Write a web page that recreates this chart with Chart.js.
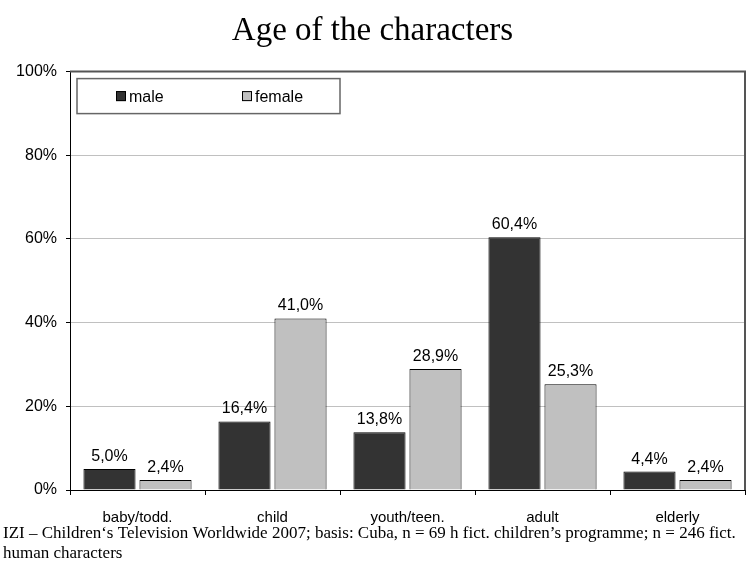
<!DOCTYPE html>
<html>
<head>
<meta charset="utf-8">
<title>Age of the characters</title>
<script src="https://cdn.jsdelivr.net/npm/chart.js@4.4.1/dist/chart.umd.min.js"></script>
<style>
  html, body { margin: 0; padding: 0; background: #fff; }
  #wrap { width: 752px; height: 563px; }
</style>
</head>
<body>
<div id="wrap"><canvas id="ageChart" width="752" height="563"></canvas></div>
<script>
// ================================
//            DATA
// ================================
const categories = ["baby/todd.", "child", "youth/teen.", "adult", "elderly"];
const maleValues = [5.0, 16.4, 13.8, 60.4, 4.4];
const femaleValues = [2.4, 41.0, 28.9, 25.3, 2.4];
const yTicks = [0, 20, 40, 60, 80, 100];
const footerLines = [
  "IZI \u2013 Children\u2018s Television Worldwide 2007; basis: Cuba, n = 69 h fict. children\u2019s programme; n = 246 fict.",
  "human characters"
];

const SANS = "'Liberation Sans', Arial, sans-serif";
const SERIF = "'Liberation Serif', 'Times New Roman', serif";

const fmtPct = (v) => v.toFixed(1).replace(".", ",") + "%";

// ================================
//   VALUE LABELS, LEGEND, FOOTER
// ================================
const extras = {
  id: "extras",
  afterDatasetsDraw(chart) {
    const ctx = chart.ctx;
    const area = chart.chartArea;

    // value labels above every bar
    ctx.save();
    ctx.font = "16px " + SANS;
    ctx.fillStyle = "#000";
    ctx.textAlign = "center";
    ctx.textBaseline = "alphabetic";
    chart.data.datasets.forEach((ds, di) => {
      chart.getDatasetMeta(di).data.forEach((bar, i) => {
        ctx.fillText(fmtPct(ds.data[i]), bar.x, bar.y - 8);
      });
    });
    ctx.restore();

    // frame: top and right edge of the plot
    ctx.save();
    ctx.strokeStyle = "#555";
    ctx.lineWidth = 2;
    ctx.beginPath();
    ctx.moveTo(area.left, area.top);
    ctx.lineTo(area.right, area.top);
    ctx.lineTo(area.right, area.bottom);
    ctx.stroke();
    ctx.restore();

    // legend box inside the plot
    const bx = area.left + 7, by = area.top + 7, bw = 263, bh = 35;
    ctx.save();
    ctx.fillStyle = "#fff";
    ctx.fillRect(bx, by, bw, bh);
    ctx.strokeStyle = "#666";
    ctx.lineWidth = 1.5;
    ctx.strokeRect(bx, by, bw, bh);
    ctx.font = "16px " + SANS;
    ctx.textBaseline = "middle";
    const itemX = [bx + 39, bx + 165];
    chart.data.datasets.forEach((ds, di) => {
      const sx = itemX[di], sy = by + bh / 2 - 5;
      ctx.fillStyle = ds.backgroundColor;
      ctx.fillRect(sx, sy, 10, 10);
      ctx.strokeStyle = "#000";
      ctx.lineWidth = 1;
      ctx.strokeRect(sx + 0.5, sy + 0.5, 9, 9);
      ctx.fillStyle = "#000";
      ctx.fillText(ds.label, sx + 13, by + bh / 2 + 1);
    });
    ctx.restore();

    // source line under the axis
    ctx.save();
    ctx.font = "17px " + SERIF;
    ctx.fillStyle = "#000";
    ctx.textAlign = "left";
    ctx.textBaseline = "alphabetic";
    footerLines.forEach((line, i) => {
      ctx.fillText(line, 3, 538 + i * 20);
    });
    ctx.restore();
  }
};

// ================================
//            CHART
// ================================
new Chart(document.getElementById("ageChart"), {
  type: "bar",
  data: {
    labels: categories,
    datasets: [
      {
        label: "male",
        data: maleValues,
        backgroundColor: "#333333",
        borderColor: "#000",
        borderWidth: 1,
        categoryPercentage: 0.83,
        barPercentage: 0.93
      },
      {
        label: "female",
        data: femaleValues,
        backgroundColor: "#c0c0c0",
        borderColor: "#000",
        borderWidth: 1,
        categoryPercentage: 0.83,
        barPercentage: 0.93
      }
    ]
  },
  options: {
    responsive: false,
    animation: false,
    devicePixelRatio: 1,
    layout: { padding: { left: 0, right: 7, top: 0, bottom: 33 } },
    plugins: {
      legend: { display: false },
      tooltip: { enabled: false },
      title: {
        display: true,
        text: "Age of the characters",
        color: "#000",
        font: { family: SERIF, size: 33, weight: "normal" },
        padding: { top: 12, bottom: 20 }
      }
    },
    scales: {
      x: {
        grid: {
          offset: true,
          drawOnChartArea: false,
          tickLength: 5,
          tickColor: "#000"
        },
        border: { color: "#000", width: 1 },
        ticks: {
          color: "#000",
          font: { family: SANS, size: 15 },
          padding: 14,
          maxRotation: 0
        },
        afterFit(scale) { scale.height = 40; }
      },
      y: {
        min: 0,
        max: 100,
        afterBuildTicks(scale) {
          scale.ticks = yTicks.map((v) => ({ value: v }));
        },
        grid: {
          color: (c) => (c.tick && c.tick.value === 0 ? "rgba(0,0,0,0)" : "#c0c0c0"),
          tickColor: "#000",
          tickLength: 4
        },
        border: { color: "#000", width: 1 },
        ticks: {
          color: "#000",
          font: { family: SANS, size: 16 },
          padding: 9,
          callback: (v) => v + "%"
        },
        afterFit(scale) { scale.width = 70; }
      }
    }
  },
  plugins: [extras]
});
</script>
</body>
</html>
